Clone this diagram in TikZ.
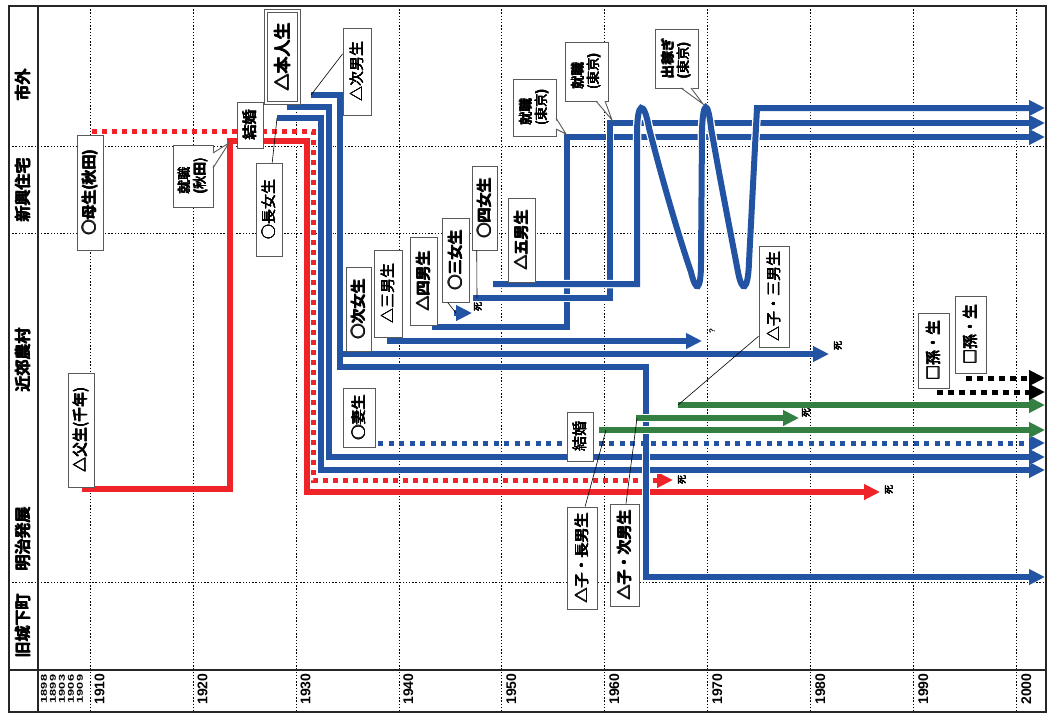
\documentclass[tikz,border=0pt]{standalone}
\usepackage{fontspec}
\setmainfont{Liberation Sans}
\newfontfamily\jp{Noto Sans CJK JP}
\usetikzlibrary{arrows.meta,calc}
\definecolor{lblue}{RGB}{35,84,164}
\definecolor{lred}{RGB}{238,36,40}
\definecolor{lgreen}{RGB}{52,128,66}
\newcommand\hb[1]{\leavevmode\rlap{#1}\rlap{\kern0.6pt#1}\rlap{\raisebox{0.5pt}{#1}}\rlap{\kern0.3pt\raisebox{0.25pt}{#1}}\kern0.6pt\raisebox{0.5pt}{#1}}
\newcommand\mybox[7][]{\node[lab,#1,minimum width={(#6-#4)*1pt},minimum height={(#5-#3)*1pt}] (#2) at ({(#3+#5)/2},{(#4+#6)/2}) {#7};}
\begin{document}
\begin{tikzpicture}[x=1pt,y=-1pt,
  frame/.style={line width=2pt,black!85},
  grid/.style={black,line width=0.8pt,dash pattern=on 1.3pt off 1.9pt},
  lab/.style={draw=black!65,line width=0.9pt,fill=white,rotate=90,inner sep=1pt,
    font=\jp\fontsize{15}{16}\selectfont,align=center},
  cal/.style={font=\jp\fontsize{13.5}{15.5}\selectfont,align=left},
  rowl/.style={rotate=90,font=\jp\fontsize{16}{16}\selectfont},
  yr/.style={rotate=90,font=\bfseries\fontsize{14}{14}\selectfont},
  yrs/.style={rotate=90,font=\bfseries\fontsize{8.5}{8.5}\selectfont},
  shi/.style={rotate=90,font=\jp\fontsize{9}{9}\selectfont,inner sep=0pt},
  halo/.style={preaction={draw=white,line width=#1}},
  bl/.style={draw=lblue,line width=6pt,halo=8.5pt},
  rsol/.style={draw=lred,line width=6pt,halo=8.5pt},
  gr/.style={draw=lgreen,line width=5.5pt,halo=8pt},
  rdot/.style={draw=lred,line width=5pt,dash pattern=on 5pt off 5pt},
  bdot/.style={draw=lblue,line width=5pt,dash pattern=on 5pt off 5.5pt},
  kdot/.style={draw=black,line width=5pt,dash pattern=on 5.5pt off 5.5pt},
  arr/.style={-{Triangle[length=16pt,width=15pt]}},
  lead/.style={draw=black,line width=0.6pt},
  calline/.style={draw=black!65,line width=0.9pt}
]
\useasboundingbox (0,0) rectangle (1052,718);
\fill[white] (0,0) rectangle (1052,718);

% grid
\foreach \yy in {1910,1920,...,2000}{
  \pgfmathsetmacro\xx{90+10.297*(\yy-1910)}
  \draw[grid] (\xx,6) -- (\xx,712);
  \node[yr] (y\yy) at (\xx+9.5,689) {\yy};
}
\foreach \yv in {146,233,582}{\draw[grid] (9,\yv) -- (1046,\yv);}
\node[yrs] (ya) at (44,689) {\scalebox{1.5}[1]{1898}};
\node[yrs] (yb) at (53,689) {\scalebox{1.5}[1]{1899}};
\node[yrs] (yc) at (62,689) {\scalebox{1.5}[1]{1903}};
\node[yrs] (yd) at (71,689) {\scalebox{1.5}[1]{1906}};
\node[yrs] (ye) at (80,689) {\scalebox{1.5}[1]{1909}};

% frame
\draw[frame] (9,6) rectangle (1046,712);
\draw[frame] (38,6) -- (38,712);
\draw[frame] (9,670) -- (1046,670);

% row labels
\node[rowl] (r1) at (23,85) {\hb{市外}};
\node[rowl] (r2) at (23,190) {\hb{新興住宅}};
\node[rowl] (r3) at (23,360) {\hb{近郊農村}};
\node[rowl] (r4) at (23,539) {\hb{明治発展}};
\node[rowl] (r5) at (23,626) {\hb{旧城下町}};

% named start points
\coordinate (s-choujo) at (277,118);
\coordinate (s-jinan) at (311,95);
\coordinate (s-sanjo) at (456,313);
\coordinate (s-yonjo) at (477,298);
\coordinate (s-k1) at (606,430);
\coordinate (s-k2) at (637,418);
\coordinate (s-k3) at (678,405);

% red lines
\draw[rsol,arr] (82,489) -- (230,489) -- (230,141) -- (307,141) -- (307,492) -- (880,492);
\draw[rdot,arr] (92,131) -- (313,131) -- (313,480) -- (673,480);

% blue lines
\draw[bl,arr] (277,118) -- (321,118) -- (321,470) -- (1045,470);
\draw[bl,arr] (287,107) -- (329,107) -- (329,457) -- (1045,457);
\draw[bl,arr] (s-jinan) -- (340,95) -- (340,367) -- (646,367) -- (646,577) -- (1045,577);
\draw[bdot,arr] (378,443) -- (1045,443);
\draw[bl,arr] (343,354) -- (829,354);
\draw[bl,arr] (387,341) -- (702,341);
\draw[bl,arr] (432,327) -- (567,327) -- (567,137) -- (1045,137);
\draw[bl,arr] (454,313) -- (472,313);
\draw[bl,arr] (473,298) -- (610,298) -- (610,123) -- (1045,123);
\draw[bl,arr] (493,284) -- (637,284) -- (637,135)
  .. controls (637,100) and (644,100) .. (649,128)
  .. controls (665,190) and (680,240) .. (691,272)
  .. controls (696,293) and (701,292) .. (701,262)
  -- (702,130)
  .. controls (703,100) and (708,100) .. (711,128)
  .. controls (722,190) and (732,240) .. (738,272)
  .. controls (742,293) and (748,292) .. (749,262)
  -- (757,108) -- (1045,108);

% green lines
\draw[gr,arr] (599,430) -- (1045,430);
\draw[gr,arr] (636,418) -- (799,418);
\draw[gr,arr] (s-k3) -- (1045,405);

% black dotted
\draw[kdot,arr] (966,378) -- (1045,378);
\draw[kdot,arr] (937,392) -- (1045,392);

% death marks
\node[shi] (d1) at (478,307) {\hb{死}};
\node[shi] (d2) at (682,480) {\hb{死}};
\node[shi] (d3) at (889,490) {\hb{死}};
\node[shi] (d4) at (838,346) {\hb{死}};
\node[shi] (d5) at (806,413) {\hb{死}};
\node[shi,font=\bfseries\fontsize{8}{8}\selectfont] (q1) at (712,331) {?};

% labels
\mybox{fa}{68}{373}{94}{487}{\hb{△父生(千年)}}
\mybox{mo}{77}{135}{103}{250}{\hb{○母生(秋田)}}
\mybox{kekA}{237}{102}{263}{148}{\hb{結婚}}
\mybox{choujo}{256}{163}{282}{256}{\hb{○長女生}}
\mybox[double=white,double distance=2pt,line width=1pt,font=\jp\fontsize{17}{17}\selectfont]{honnin}{266}{11}{299}{103}{\hb{△本人生}}
\mybox{jinan}{343}{28}{371}{115}{\hb{△次男生}}
\mybox{jijo}{346}{267}{371}{351}{\hb{○次女生}}
\mybox{sannan}{374}{250}{402}{337}{\hb{△三男生}}
\mybox{yonnan}{410}{237}{437}{325}{\hb{△四男生}}
\mybox{sanjo}{442}{218}{469}{302}{\hb{○三女生}}
\mybox{yonjo}{472}{166}{497}{250}{\hb{○四女生}}
\mybox{gonan}{508}{198}{535}{282}{\hb{△五男生}}
\mybox{tsuma}{343}{388}{375}{447}{\hb{○妻生}}
\mybox{kekB}{567}{412}{593}{461}{\hb{結婚}}
\mybox{k1}{567}{507}{597}{609}{\hb{△子・長男生}}
\mybox{k2}{610}{504}{639}{606}{\hb{△子・次男生}}
\mybox{k3}{759}{246}{789}{347}{\hb{△子・三男生}}
\mybox{m1}{918}{313}{949}{388}{\hb{□孫・生}}
\mybox{m2}{955}{296}{986}{373}{\hb{□孫・生}}

% callouts
\mybox[cal]{jsA}{173}{145}{213}{207}{\hb{就職}\\\hb{(秋田)}}
\coordinate (tA) at (229,143);
\fill[white] (211.5,153) -- (tA) -- (211.5,168) -- cycle;
\draw[calline] (213,153) -- (tA) -- (213,168);
\mybox[cal]{jsB}{513}{79}{556}{136}{\hb{就職}\\\hb{(東京)}}
\coordinate (tB) at (566,134);
\fill[white] (554.5,118) -- (tB) -- (554.5,129) -- cycle;
\draw[calline] (556,118) -- (tB) -- (556,129);
\mybox[cal]{jsC}{565}{42}{608}{101}{\hb{就職}\\\hb{(東京)}}
\coordinate (tC) at (612,120);
\fill[white] (596,99.5) -- (tC) -- (605,99.5) -- cycle;
\draw[calline] (596,101) -- (tC) -- (605,101);
\mybox[cal]{dek}{655}{29}{698}{88}{\hb{出稼ぎ}\\\hb{(東京)}}
\coordinate (tD) at (703,104);
\fill[white] (681,86.5) -- (tD) -- (691,86.5) -- cycle;
\draw[calline] (681,88) -- (tD) -- (691,88);

% leaders
\draw[lead] ($(choujo.north east)!0.62!(choujo.south east)$) -- (s-choujo);
\draw[lead] ($(jinan.north east)!0.3!(jinan.north west)$) -- (s-jinan);
\draw[lead] ($(sanjo.north west)!0.22!(sanjo.south west)$) -- (s-sanjo);
\draw[lead] ($(yonjo.north west)!0.2!(yonjo.south west)$) -- (s-yonjo);
\draw[lead] ($(k1.north east)!0.6!(k1.south east)$) -- (s-k1);
\draw[lead] ($(k2.north east)!0.55!(k2.south east)$) -- (s-k2);
\draw[lead] ($(k3.north west)!0.11!(k3.north east)$) -- (s-k3);
\end{tikzpicture}
\end{document}
